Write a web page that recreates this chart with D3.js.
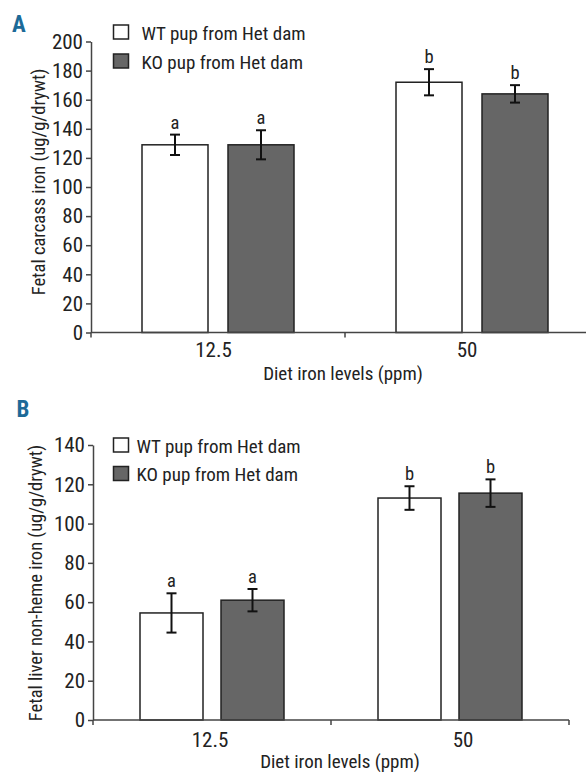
<!DOCTYPE html>
<html><head><meta charset="utf-8">
<script src="https://cdn.jsdelivr.net/npm/d3@7"></script>
<style>body{margin:0;background:#fff}svg{display:block}text{font-family:"Roboto Condensed","Liberation Sans",Arial,sans-serif;fill:#222}</style>
</head><body>
<svg id="c" width="586" height="772"></svg>
<script>
const categories = ["12.5", "50"];
const seriesNames = ["WT pup from Het dam", "KO pup from Het dam"];
const seriesFill = ["#ffffff", "#666666"];
// Panel A: fetal carcass iron
const carcassWT = [129, 172];
const carcassWTErr = [7, 9];
const carcassKO = [129, 164];
const carcassKOErr = [10, 6];
const carcassLetters = [["a", "a"], ["b", "b"]]; // [category][series]
const carcassTicks = [0, 20, 40, 60, 80, 100, 120, 140, 160, 180, 200];
// Panel B: fetal liver non-heme iron
const liverWT = [54.5, 113];
const liverWTErr = [10, 6];
const liverKO = [61, 115.5];
const liverKOErr = [5.7, 7];
const liverLetters = [["a", "a"], ["b", "b"]];
const liverTicks = [0, 20, 40, 60, 80, 100, 120, 140];

const FONT = '"Roboto Condensed","Liberation Sans",Arial,sans-serif';
const svg = d3.select("#c");

function panel(o) {
  const g = svg.append("g");
  const x = d3.scaleBand().domain(categories).range([o.x0, o.x1]).padding(0);
  const inner = d3.scaleBand().domain(seriesNames).range([0, o.groupW]).paddingInner(o.innerPad).paddingOuter(0);
  const y = d3.scaleLinear().domain([0, o.ymax]).range([o.yBottom, o.yTop]);

  const rows = [];
  categories.forEach((c, i) => {
    seriesNames.forEach((s, j) => {
      rows.push({c, s, j, v: o.vals[j][i], e: o.errs[j][i], l: o.letters[i][j]});
    });
  });
  const bx = d => x(d.c) + x.bandwidth() / 2 - o.groupW / 2 + inner(d.s);
  g.selectAll("rect.bar").data(rows).join("rect")
    .attr("x", bx).attr("y", d => y(d.v))
    .attr("width", inner.bandwidth()).attr("height", d => y(0) - y(d.v))
    .attr("fill", d => seriesFill[d.j]).attr("stroke", "#222").attr("stroke-width", 1.5);

  const cx = d => bx(d) + inner.bandwidth() / 2;
  const eb = g.append("g").attr("stroke", "#111").attr("stroke-width", 2);
  eb.selectAll("line.v").data(rows).join("line")
    .attr("x1", cx).attr("x2", cx).attr("y1", d => y(d.v + d.e)).attr("y2", d => y(d.v - d.e));
  eb.selectAll("line.t").data(rows).join("line")
    .attr("x1", d => cx(d) - 5).attr("x2", d => cx(d) + 5).attr("y1", d => y(d.v + d.e)).attr("y2", d => y(d.v + d.e));
  eb.selectAll("line.b").data(rows).join("line")
    .attr("x1", d => cx(d) - 5).attr("x2", d => cx(d) + 5).attr("y1", d => y(d.v - d.e)).attr("y2", d => y(d.v - d.e));
  g.selectAll("text.let").data(rows).join("text")
    .attr("x", cx).attr("y", d => y(d.v + d.e) - 6).attr("text-anchor", "middle")
    .attr("font-size", 18.5).text(d => d.l);

  // y axis
  const ya = g.append("g").attr("transform", `translate(${o.x0},0)`)
    .call(d3.axisLeft(y).tickValues(o.ticks).tickSize(5).tickPadding(3).tickSizeOuter(0));
  ya.select(".domain").attr("stroke", "#444").attr("stroke-width", 1.5);
  ya.selectAll(".tick line").attr("stroke", "#444").attr("stroke-width", 1.5);
  ya.selectAll(".tick text").attr("font-size", 21).attr("font-family", FONT).attr("fill", "#222");

  // x axis
  const xa = g.append("g").attr("stroke", "#444").attr("stroke-width", 1.5);
  xa.append("line").attr("x1", o.x0).attr("x2", o.x1).attr("y1", y(0)).attr("y2", y(0));
  const bounds = [o.x0].concat(categories.map(c => x(c) + x.bandwidth()));
  xa.selectAll("line.tk").data(bounds).join("line")
    .attr("x1", d => d).attr("x2", d => d).attr("y1", y(0)).attr("y2", y(0) + 5);
  g.selectAll("text.xl").data(categories).join("text")
    .attr("x", (d, i) => x(d) + x.bandwidth() / 2 + o.xLabShift[i]).attr("y", y(0) + o.xLabDy)
    .attr("text-anchor", "middle").attr("font-size", 21).text(d => d);
  g.append("text").attr("x", o.xTitleX).attr("y", o.xTitleY).attr("text-anchor", "middle")
    .attr("font-size", 19).text("Diet iron levels (ppm)");
  g.append("text").attr("transform", `translate(${o.yTitleX},${o.yTitleY}) rotate(-90)`)
    .attr("text-anchor", "middle").attr("font-size", 18.5).text(o.yTitle);

  // legend
  const lg = g.append("g");
  seriesNames.forEach((s, j) => {
    const ly = o.legY + j * o.legStep;
    lg.append("rect").attr("x", 113.5).attr("y", ly - 7).attr("width", 15).attr("height", 14)
      .attr("fill", seriesFill[j]).attr("stroke", "#222").attr("stroke-width", 1.5);
    lg.append("text").attr("x", o.legTextX).attr("y", ly + 7.5).attr("font-size", 19).text(s);
  });

  g.append("text").attr("x", o.letX).attr("y", o.letY).attr("font-size", 23).attr("font-weight", "bold")
    .style("fill", "#1c6a98").text(o.letter);
}

panel({
  x0: 91, x1: 599, groupW: 152, innerPad: 20 / 86, ymax: 200, yBottom: 332.5, yTop: 41.5,
  vals: [carcassWT, carcassKO], errs: [carcassWTErr, carcassKOErr], letters: carcassLetters, ticks: carcassTicks,
  xLabShift: [-4.5, -5], xLabDy: 24,
  xTitleX: 343, xTitleY: 380, yTitleX: 45, yTitleY: 182, yTitle: "Fetal carcass iron (ug/g/drywt)",
  legY: 32, legStep: 29, legTextX: 141.5, letter: "A", letX: 12, letY: 31.5
});
panel({
  x0: 93, x1: 569, groupW: 144, innerPad: 18 / 81, ymax: 140, yBottom: 720, yTop: 445,
  vals: [liverWT, liverKO], errs: [liverWTErr, liverKOErr], letters: liverLetters, ticks: liverTicks,
  xLabShift: [-2, 13], xLabDy: 26.5,
  xTitleX: 340, xTitleY: 768, yTitleX: 42, yTitleY: 583, yTitle: "Fetal liver non-heme iron (ug/g/drywt)",
  legY: 445, legStep: 28.5, legTextX: 136.5, letter: "B", letX: 16.5, letY: 416.5
});
</script>
</body></html>
